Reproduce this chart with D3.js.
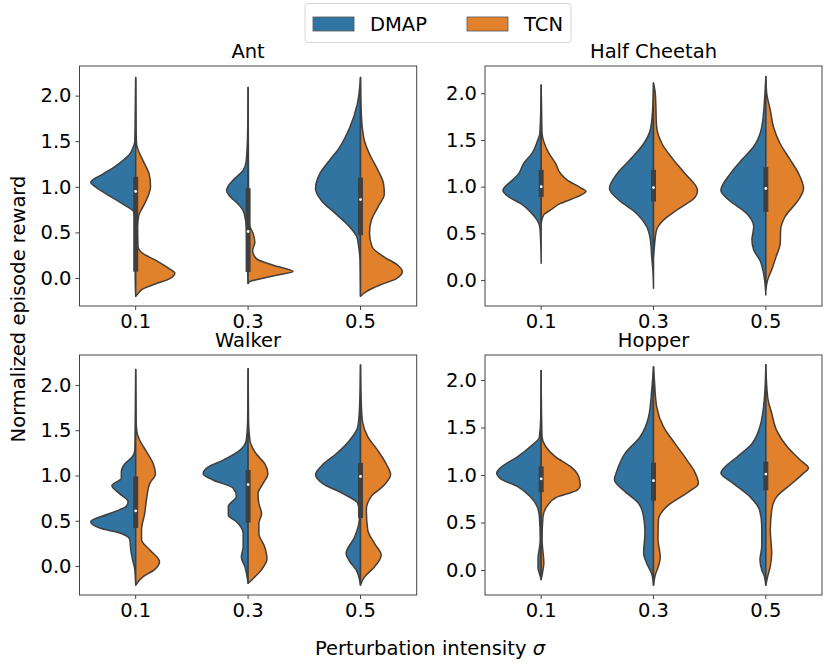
<!DOCTYPE html>
<html>
<head>
<meta charset="utf-8">
<script src="https://cdn.jsdelivr.net/npm/d3@7"></script>
<style>
  body { margin: 0; background: #fff; }
  svg text { font-family: "DejaVu Sans", sans-serif; fill: #000; }
</style>
</head>
<body>
<svg id="chart" width="830" height="666"></svg>
<script>
// categories
const sigmas = ["0.1", "0.3", "0.5"];
const envs = ["Ant", "Half Cheetah", "Walker", "Hopper"];
const algos = ["DMAP", "TCN"];
const yTicks = [0, 0.5, 1, 1.5, 2];
// y extent of each panel (as seaborn chose it)
const yDomains = [[-0.307, 2.325], [-0.279, 2.293], [-0.32, 2.331], [-0.263, 2.263]];

// violin half profiles: [reward, relative density]
const antDmap = [
  [[2.2,0],[1.8,0.01],[1.5,0.02],[1.43,0.06],[1.36,0.13],[1.29,0.28],[1.22,0.47],[1.14,0.73],[1.05,1.0],[0.99,0.87],[0.92,0.65],[0.81,0.28],[0.72,0.04],[0.6,0.01],[0,0.01],[-0.2,0]],
  [[2.09,0],[1.6,0.01],[1.29,0.04],[1.18,0.11],[1.09,0.3],[1.01,0.44],[0.96,0.48],[0.9,0.41],[0.81,0.22],[0.74,0.11],[0.67,0.07],[0.56,0.04],[0.4,0.03],[0.2,0.02],[-0.06,0]],
  [[2.2,0],[1.91,0.07],[1.65,0.24],[1.43,0.47],[1.29,0.69],[1.14,0.91],[0.98,1.0],[0.85,0.87],[0.7,0.54],[0.56,0.24],[0.45,0.08],[0.34,0.04],[0.19,0.01],[-0.2,0]]
];
const antTcn = [
  [[2.2,0],[1.6,0.01],[1.47,0.02],[1.29,0.16],[1.14,0.3],[1.01,0.33],[0.89,0.27],[0.78,0.16],[0.69,0.07],[0.56,0.04],[0.34,0.05],[0.28,0.13],[0.19,0.46],[0.1,0.75],[0.055,0.87],[-0.01,0.75],[-0.06,0.46],[-0.12,0.16],[-0.19,0.02],[-0.2,0]],
  [[2.09,0],[1.0,0.01],[0.6,0.02],[0.49,0.11],[0.39,0.15],[0.3,0.1],[0.21,0.19],[0.14,0.56],[0.07,1.0],[0.03,0.63],[-0.01,0.26],[-0.04,0.04],[-0.06,0]],
  [[2.2,0],[1.9,0.01],[1.65,0.04],[1.5,0.09],[1.36,0.2],[1.18,0.39],[1.04,0.51],[0.92,0.53],[0.78,0.39],[0.63,0.24],[0.49,0.2],[0.34,0.26],[0.23,0.53],[0.14,0.83],[0.07,0.93],[-0.01,0.79],[-0.08,0.42],[-0.15,0.13],[-0.2,0]]
];
const cheetahDmap = [
  [[2.09,0],[1.8,0.01],[1.57,0.03],[1.48,0.09],[1.36,0.2],[1.25,0.39],[1.14,0.5],[1.07,0.64],[0.96,0.85],[0.89,0.72],[0.82,0.46],[0.73,0.24],[0.64,0.09],[0.57,0.03],[0.4,0.01],[0.18,0]],
  [[2.11,0],[1.82,0.02],[1.61,0.07],[1.46,0.22],[1.29,0.52],[1.14,0.81],[0.98,0.98],[0.86,0.78],[0.71,0.37],[0.57,0.15],[0.43,0.07],[0.25,0.04],[0.07,0.01],[-0.09,0]],
  [[2.18,0],[2.0,0.02],[1.64,0.09],[1.43,0.27],[1.29,0.53],[1.14,0.79],[0.96,1.0],[0.86,0.83],[0.71,0.42],[0.57,0.27],[0.43,0.31],[0.32,0.27],[0.21,0.13],[0.07,0.05],[-0.16,0]]
];
const cheetahTcn = [
  [[2.09,0],[1.8,0.01],[1.57,0.02],[1.48,0.06],[1.36,0.17],[1.25,0.32],[1.14,0.43],[1.07,0.58],[0.98,0.91],[0.95,1.0],[0.89,0.8],[0.82,0.43],[0.75,0.21],[0.7,0.06],[0.61,0]],
  [[2.11,0],[2.0,0.04],[1.64,0.07],[1.46,0.19],[1.29,0.44],[1.14,0.7],[0.96,0.98],[0.89,0.93],[0.75,0.52],[0.64,0.22],[0.54,0.07],[0.36,0.02],[0.25,0]],
  [[2.18,0],[2.0,0.02],[1.82,0.1],[1.64,0.17],[1.46,0.32],[1.29,0.54],[1.14,0.73],[0.98,0.84],[0.86,0.73],[0.68,0.43],[0.54,0.33],[0.39,0.32],[0.25,0.23],[0.11,0.13],[0.0,0.04],[-0.1,0]]
];
const walkerDmap = [
  [[2.17,0],[1.6,0.01],[1.28,0.02],[1.21,0.07],[1.13,0.24],[1.04,0.32],[0.97,0.32],[0.89,0.53],[0.8,0.36],[0.71,0.17],[0.66,0.21],[0.58,0.58],[0.49,1.0],[0.42,0.8],[0.36,0.32],[0.29,0.13],[0.18,0.11],[0.07,0.07],[-0.04,0.02],[-0.21,0]],
  [[2.18,0],[1.6,0.01],[1.39,0.04],[1.28,0.18],[1.17,0.55],[1.08,0.93],[1.02,1.0],[0.95,0.78],[0.86,0.33],[0.77,0.26],[0.66,0.44],[0.56,0.44],[0.49,0.26],[0.36,0.11],[0.21,0.11],[0.1,0.15],[-0.01,0.07],[-0.19,0]],
  [[2.22,0],[1.76,0.02],[1.54,0.06],[1.39,0.24],[1.24,0.54],[1.12,0.84],[1.01,1.0],[0.91,0.84],[0.8,0.39],[0.69,0.06],[0.55,0.02],[0.32,0.13],[0.14,0.32],[0.05,0.24],[-0.04,0.1],[-0.21,0]]
];
const walkerTcn = [
  [[2.17,0],[1.6,0.01],[1.47,0.03],[1.39,0.09],[1.28,0.22],[1.13,0.39],[1.02,0.44],[0.91,0.31],[0.77,0.25],[0.58,0.2],[0.4,0.13],[0.29,0.13],[0.18,0.31],[0.05,0.53],[-0.04,0.42],[-0.12,0.16],[-0.21,0]],
  [[2.18,0],[1.6,0.01],[1.39,0.04],[1.24,0.18],[1.13,0.37],[1.02,0.44],[0.91,0.33],[0.8,0.22],[0.69,0.24],[0.58,0.3],[0.47,0.24],[0.36,0.24],[0.21,0.37],[0.08,0.42],[-0.04,0.3],[-0.14,0.11],[-0.19,0]],
  [[2.22,0],[1.76,0.02],[1.58,0.05],[1.43,0.16],[1.28,0.38],[1.13,0.57],[1.01,0.67],[0.88,0.5],[0.77,0.24],[0.62,0.13],[0.4,0.16],[0.25,0.31],[0.12,0.46],[-0.01,0.31],[-0.12,0.09],[-0.21,0]]
];
const hopperDmap = [
  [[2.1,0],[1.6,0.01],[1.4,0.04],[1.3,0.24],[1.19,0.53],[1.09,0.87],[1.02,0.99],[0.96,0.9],[0.88,0.53],[0.77,0.24],[0.67,0.09],[0.56,0.04],[0.32,0.02],[0.11,0.07],[0.02,0.07],[-0.05,0.03],[-0.1,0]],
  [[2.14,0],[1.89,0.04],[1.61,0.11],[1.4,0.3],[1.23,0.63],[1.05,0.81],[0.95,0.87],[0.84,0.67],[0.7,0.33],[0.56,0.22],[0.39,0.19],[0.18,0.22],[0.07,0.15],[-0.04,0.04],[-0.16,0]],
  [[2.16,0],[1.82,0.03],[1.51,0.13],[1.33,0.31],[1.19,0.64],[1.09,0.9],[1.02,1.0],[0.91,0.72],[0.77,0.35],[0.63,0.14],[0.46,0.09],[0.25,0.09],[0.11,0.13],[0.0,0.09],[-0.07,0.03],[-0.16,0]]
];
const hopperTcn = [
  [[2.1,0],[1.6,0.01],[1.4,0.02],[1.3,0.1],[1.19,0.32],[1.09,0.65],[0.98,0.84],[0.89,0.87],[0.84,0.8],[0.77,0.36],[0.67,0.13],[0.56,0.04],[0.32,0.02],[0.07,0.06],[0.0,0.04],[-0.1,0]],
  [[2.14,0],[2.0,0.02],[1.72,0.07],[1.51,0.22],[1.33,0.48],[1.16,0.74],[1.02,0.93],[0.91,1.0],[0.81,0.74],[0.67,0.3],[0.53,0.11],[0.32,0.1],[0.14,0.15],[0.04,0.11],[-0.05,0.04],[-0.16,0]],
  [[2.16,0],[1.82,0.04],[1.65,0.13],[1.47,0.24],[1.3,0.47],[1.16,0.76],[1.07,0.95],[1.02,0.84],[0.91,0.58],[0.77,0.24],[0.63,0.13],[0.42,0.1],[0.18,0.13],[0.04,0.1],[-0.07,0.04],[-0.16,0]]
];

// inner boxes: [q1, median, q3]
const antBox = [[0.07, 0.95, 1.11], [0.066, 0.51, 0.985], [0.47, 0.86, 1.1]];
const cheetahBox = [[0.89, 1.0, 1.18], [0.84, 0.99, 1.18], [0.73, 0.98, 1.21]];
const walkerBox = [[0.42, 0.61, 0.99], [0.48, 0.9, 1.06], [0.53, 0.99, 1.14]];
const hopperBox = [[0.82, 0.96, 1.09], [0.73, 0.94, 1.13], [0.84, 1.01, 1.14]];

const profiles = [[antDmap, antTcn], [cheetahDmap, cheetahTcn], [walkerDmap, walkerTcn], [hopperDmap, hopperTcn]];
const boxes = [antBox, cheetahBox, walkerBox, hopperBox];

const colors = ["#3274a1", "#e1812c"];
const edge = "#3f3f3f";
const fontSize = "19.5px";

const svg = d3.select("#chart");

// panel frames
const cols = [[79.5, 416.7], [485, 822]];
const rows = [[66, 306], [355, 595]];

envs.forEach((env, i) => {
  const [x0, x1] = cols[i % 2];
  const [y0, y1] = rows[Math.floor(i / 2)];
  const g = svg.append("g");

  const x = d3.scaleBand().domain(sigmas).range([x0, x1]);
  const y = d3.scaleLinear().domain(yDomains[i]).range([y1, y0]);
  const halfW = x.bandwidth() * 0.4;

  // violins
  algos.forEach((algo, a) => {
    const side = a === 0 ? -1 : 1;
    sigmas.forEach((s, k) => {
      const cx = x(s) + x.bandwidth() / 2;
      const area = d3.area()
        .curve(d3.curveMonotoneY)
        .y((d) => y(d[0]))
        .x0(cx)
        .x1((d) => cx + side * d[1] * halfW);
      g.append("path")
        .datum(profiles[i][a][k])
        .attr("d", area)
        .attr("fill", colors[a])
        .attr("stroke", edge)
        .attr("stroke-width", 1.5)
        .attr("stroke-linejoin", "round");
    });
  });

  // inner box
  sigmas.forEach((s, k) => {
    const cx = x(s) + x.bandwidth() / 2;
    const [q1, med, q3] = boxes[i][k];
    g.append("line")
      .attr("x1", cx).attr("x2", cx)
      .attr("y1", y(q1)).attr("y2", y(q3))
      .attr("stroke", edge)
      .attr("stroke-width", 5);
    g.append("circle")
      .attr("cx", cx).attr("cy", y(med))
      .attr("r", 1.4)
      .attr("fill", "#fff");
  });

  // frame
  g.append("rect")
    .attr("x", x0).attr("y", y0)
    .attr("width", x1 - x0).attr("height", y1 - y0)
    .attr("fill", "none")
    .attr("stroke", "#444")
    .attr("stroke-width", 1);

  // y axis
  const yAxis = d3.axisLeft(y).tickValues(yTicks).tickFormat(d3.format(".1f")).tickSize(4).tickPadding(4);
  const ya = g.append("g").attr("transform", `translate(${x0},0)`).call(yAxis);
  ya.select(".domain").remove();
  ya.selectAll("line").attr("stroke", "#444");
  ya.selectAll("text").style("font-size", fontSize).attr("fill", "#000");

  // x axis
  const xAxis = d3.axisBottom(x).tickSize(4).tickPadding(4);
  const xa = g.append("g").attr("transform", `translate(0,${y1})`).call(xAxis);
  xa.select(".domain").remove();
  xa.selectAll("line").attr("stroke", "#444");
  xa.selectAll("text").style("font-size", fontSize).attr("fill", "#000");

  // title
  g.append("text")
    .attr("x", (x0 + x1) / 2)
    .attr("y", y0 - 8)
    .attr("text-anchor", "middle")
    .style("font-size", fontSize)
    .text(env);
});

// shared labels
svg.append("text")
  .attr("transform", "translate(25,309) rotate(-90)")
  .attr("text-anchor", "middle")
  .style("font-size", fontSize)
  .text("Normalized episode reward");

const xl = svg.append("text")
  .attr("x", 430)
  .attr("y", 655)
  .attr("text-anchor", "middle")
  .style("font-size", fontSize);
xl.append("tspan").text("Perturbation intensity ");
xl.append("tspan").style("font-style", "italic").text("σ");

// legend
const legend = svg.append("g");
legend.append("rect")
  .attr("x", 305).attr("y", 3.5)
  .attr("width", 266).attr("height", 39)
  .attr("rx", 3)
  .attr("fill", "#fff")
  .attr("stroke", "#d6d6d6");
const legendX = [313, 467];
algos.forEach((algo, a) => {
  legend.append("rect")
    .attr("x", legendX[a]).attr("y", 17)
    .attr("width", 41).attr("height", 14)
    .attr("fill", colors[a])
    .attr("stroke", "#555")
    .attr("stroke-width", 0.8);
  legend.append("text")
    .attr("x", legendX[a] + 57)
    .attr("y", 31)
    .style("font-size", fontSize)
    .text(algo);
});
</script>
</body>
</html>
